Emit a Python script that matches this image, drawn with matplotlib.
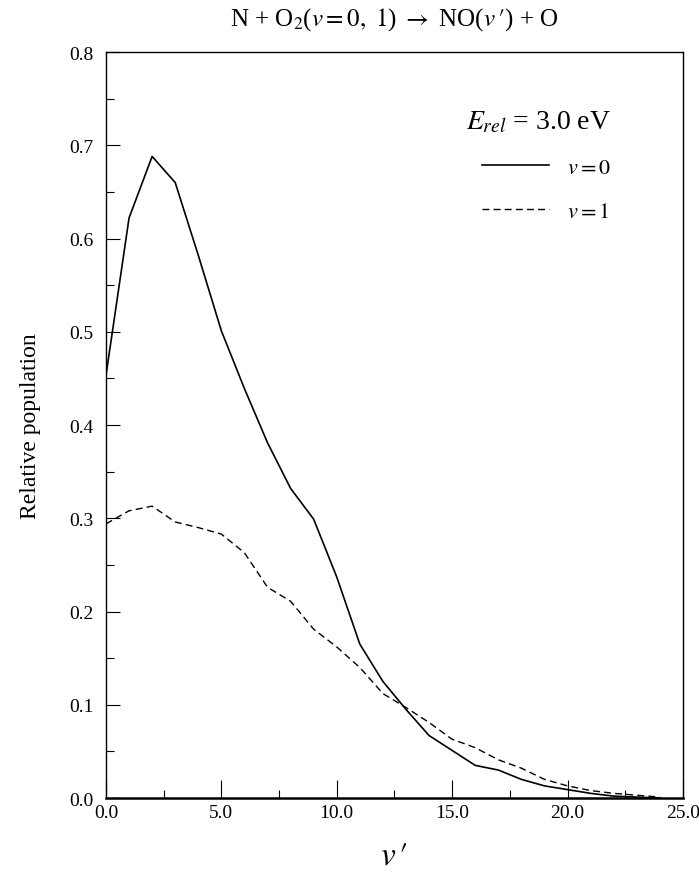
import matplotlib
matplotlib.use("Agg")
import matplotlib.pyplot as plt
import numpy as np
from matplotlib.ticker import MultipleLocator, FormatStrFormatter

plt.rcParams['font.family'] = ['Liberation Serif', 'DejaVu Serif']
plt.rcParams['mathtext.fontset'] = 'stix'

# vibrational quantum number of NO product
v_prime = np.arange(0, 25)

# relative populations
pop_v0 = [0.453, 0.622, 0.688, 0.660, 0.582, 0.501, 0.439, 0.381, 0.332, 0.299,
          0.237, 0.165, 0.125, 0.095, 0.067, 0.051, 0.035, 0.030, 0.020, 0.013,
          0.009, 0.005, 0.002, 0.001, 0.000]
pop_v1 = [0.294, 0.308, 0.313, 0.296, 0.290, 0.283, 0.263, 0.226, 0.211, 0.181,
          0.162, 0.140, 0.112, 0.097, 0.081, 0.063, 0.054, 0.041, 0.032, 0.020,
          0.013, 0.008, 0.005, 0.003, 0.001]

fig = plt.figure(figsize=(6.99, 8.79), dpi=100)
ax = fig.add_axes([0.1516, 0.091, 0.8254, 0.8487])

ax.plot(v_prime, pop_v0, color='black', lw=1.2, label=r'$v = 0$')
ax.plot(v_prime, pop_v1, color='black', lw=1.0, dashes=(5, 3), label=r'$v = 1$')

ax.set_xlim(0, 25)
ax.set_ylim(0, 0.8)
ax.xaxis.set_major_locator(MultipleLocator(5))
ax.xaxis.set_minor_locator(MultipleLocator(2.5))
ax.yaxis.set_major_locator(MultipleLocator(0.1))
ax.yaxis.set_minor_locator(MultipleLocator(0.05))
ax.xaxis.set_major_formatter(FormatStrFormatter('%.1f'))
ax.yaxis.set_major_formatter(FormatStrFormatter('%.1f'))
ax.tick_params(which='both', direction='in', top=False, right=False, labelsize=14)
ax.tick_params(axis='y', which='major', length=10, width=0.8, pad=9)
ax.tick_params(axis='x', which='major', length=13, width=0.8, pad=4)
ax.tick_params(which='minor', length=6, width=0.8)
for s in ax.spines.values():
    s.set_linewidth(1.0)
ax.spines['bottom'].set_linewidth(1.8)

ax.set_title(r"N + O$_2$($v = 0,\ 1$) $\rightarrow$ NO($v\,\prime$) + O", fontsize=18, pad=20)
ax.set_ylabel('Relative population', fontsize=17, labelpad=20)
ax.set_xlabel(r"$v\,\prime$", fontsize=24, labelpad=14)

leg = ax.legend(loc='upper right', bbox_to_anchor=(0.875, 0.924), frameon=False,
                fontsize=16, handlelength=3.0, handletextpad=0.8, labelspacing=1.05,
                borderaxespad=0, borderpad=0,
                title=r'$E_{rel}$ = 3.0 eV', title_fontsize=20)
leg._legend_box.align = 'right'

fig.savefig('out.png', dpi=100)
